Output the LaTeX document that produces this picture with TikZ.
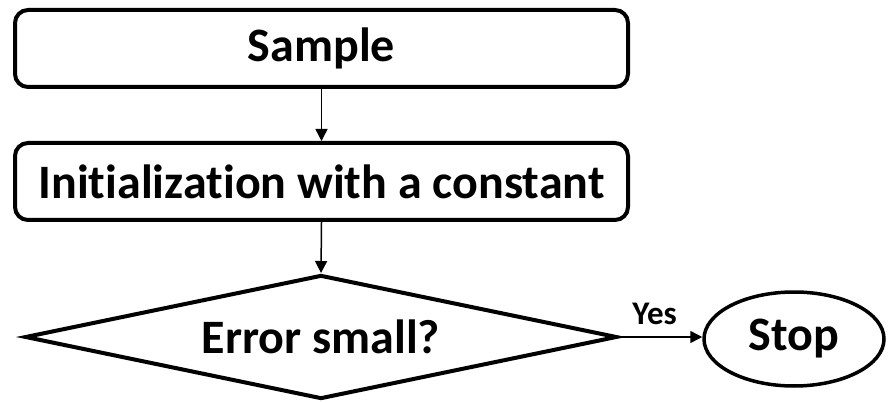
\documentclass[tikz,border=0pt]{standalone}
\usepackage{fontspec}
\setmainfont{Carlito}[Ligatures=NoCommon]
\usetikzlibrary{shapes.geometric,arrows.meta}
\begin{document}
\begin{tikzpicture}[x=1pt,y=-1pt,
  bigtext/.style={font=\fontsize{48}{52}\selectfont\bfseries},
  box/.style={draw,line width=4pt,rounded corners=13pt,minimum width=613pt,minimum height=77pt,inner sep=0pt,bigtext},
  decision/.style={draw,line width=4pt,shape=diamond,aspect=4.7,minimum width=592pt,minimum height=124pt,inner sep=0pt,bigtext},
  terminal/.style={draw,line width=3.5pt,shape=ellipse,minimum width=180pt,minimum height=94pt,inner sep=0pt,bigtext},
  flow/.style={line width=1.5pt,-{Triangle[length=12pt,width=12pt]}},
  lbl/.style={font=\fontsize{33}{36}\selectfont\bfseries}]
\useasboundingbox (0,0) rectangle (888,403);
\node[box] (sample) at (321.5,48.5) {Sample};
\node[box] (init) at (321.5,181.5) {Initialization with a constant};
\node[decision] (err) at (321,337) {Error small?};
\node[terminal] (stop) at (794,339) {Stop};
\draw[flow] (sample.south) -- (init.north);
\draw[flow] (init.south) -- (err.north);
\draw[flow] (err.east) -- node[lbl,above=8pt,xshift=-6pt] {Yes} (stop.west |- err.east);
\end{tikzpicture}
\end{document}
